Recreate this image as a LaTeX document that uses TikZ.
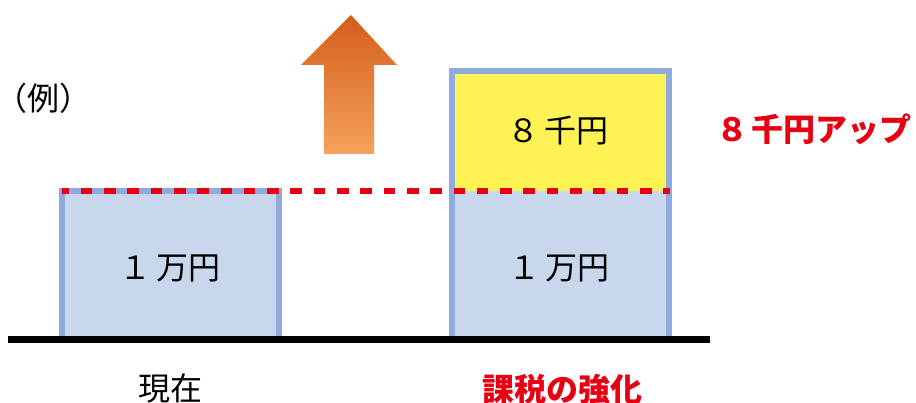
\documentclass[tikz,border=0pt]{standalone}
\usepackage{fontspec}
\newfontfamily\jp{Noto Sans CJK JP}
\definecolor{boxblue}{HTML}{8FAADC}
\definecolor{boxfill}{HTML}{C9D7ED}
\definecolor{boxyellow}{HTML}{FFF254}
\definecolor{upred}{HTML}{E60012}
\definecolor{arrtop}{HTML}{D45E1A}
\definecolor{arrmid}{HTML}{EB7100}
\definecolor{arrbot}{HTML}{F5A25C}
\tikzset{
  lbl/.style={inner sep=0pt, font=\jp\fontsize{32}{38}\selectfont},
  redlbl/.style={lbl, text=upred, font=\jp\bfseries\fontsize{32}{38}\selectfont},
  barbox/.style={draw=boxblue, line width=6pt},
}
\begin{document}
\begin{tikzpicture}[x=1pt,y=-1pt]
\useasboundingbox (0,0) rectangle (916,403);
% left box
\fill[boxfill] (62,191) rectangle (279,340);
\draw[barbox] (62,340) -- (62,191) -- (279,191) -- (279,340);
% right box
\fill[boxyellow] (452,71) rectangle (669,191);
\fill[boxfill] (452,191) rectangle (669,340);
\draw[barbox] (452,340) -- (452,71) -- (669,71) -- (669,340);
% dashed red line
\coordinate (dl) at (62,191);
\coordinate (dr) at (670,191);
\draw[upred, line width=6pt, dash pattern=on 11.6pt off 11.7pt, dash phase=4.6pt] (dl) -- (dr);
% ground line
\coordinate (gl) at (8,340);
\coordinate (gr) at (710,340);
\draw[black, line width=7pt] (gl) -- (gr);
% arrow
\shade[top color=arrtop, middle color=arrmid, bottom color=arrbot]
  (351,15) -- (397,65) -- (374,65) -- (374,154) -- (324,154) -- (324,65) -- (301,65) -- cycle;
% labels
\node[lbl] (ex) at (43,98) {（例）};
\node[lbl] (lv) at (170,268) {１\hspace{6pt}万円};
\node[lbl] (rv) at (559,268) {１\hspace{6pt}万円};
\node[lbl] (up) at (558,131) {８\hspace{5pt}千円};
\node[redlbl] (upt) at (814,129) {８\hspace{3pt}千円アップ};
\node[lbl] (now) at (170,388) {現在};
\node[redlbl] (tax) at (562,389) {課税の強化};
\end{tikzpicture}
\end{document}
